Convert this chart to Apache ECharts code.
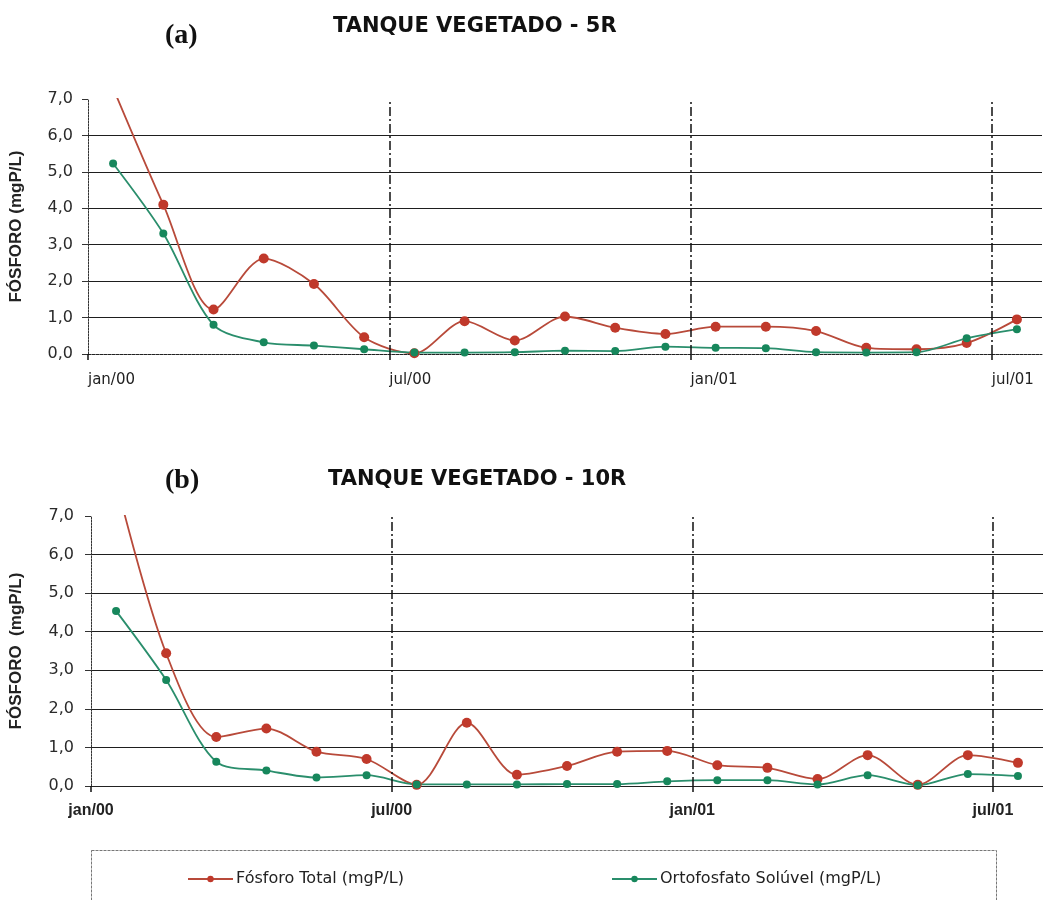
<!DOCTYPE html>
<html>
<head>
<meta charset="utf-8">
<title>Fósforo - Tanques vegetados</title>
<script src="https://cdn.jsdelivr.net/npm/echarts@6/dist/echarts.min.js"></script>
<style>
  html, body { margin: 0; padding: 0; background: #fff; }
  #chart { width: 1043px; height: 900px; }
</style>
</head>
<body>
<div id="chart"></div>
<script>
// Monthly samples, jan/2000 .. jul/2001 (one sample around mid-month)
const months = ['jan/00','fev/00','mar/00','abr/00','mai/00','jun/00','jul/00','ago/00','set/00','out/00',
                'nov/00','dez/00','jan/01','fev/01','mar/01','abr/01','mai/01','jun/01','jul/01'];
const xTickLabels = ['jan/00','jul/00','jan/01','jul/01'];
const yTickLabels = ['0,0','1,0','2,0','3,0','4,0','5,0','6,0','7,0'];

const seriesNames = ['Fósforo Total (mgP/L)', 'Ortofosfato Solúvel (mgP/L)'];
const panelTags = ['(a)', '(b)'];
const panelTitles = ['TANQUE VEGETADO - 5R', 'TANQUE VEGETADO - 10R'];
const yNames = ['FÓSFORO (mgP/L)', 'FÓSFORO  (mgP/L)'];

// Tanque 5R
const totalP5R = [7.3, 4.1, 1.22, 2.62, 1.92, 0.46, 0.02, 0.9, 0.37, 1.03, 0.72, 0.55, 0.75, 0.75, 0.63, 0.17, 0.13, 0.3, 0.95];
const orthoP5R = [5.23, 3.31, 0.8, 0.32, 0.23, 0.13, 0.04, 0.04, 0.05, 0.09, 0.08, 0.2, 0.17, 0.16, 0.05, 0.04, 0.05, 0.43, 0.68];
// Tanque 10R
const totalP10R = [7.9, 3.44, 1.27, 1.49, 0.89, 0.7, 0.03, 1.64, 0.29, 0.52, 0.89, 0.91, 0.54, 0.47, 0.18, 0.8, 0.03, 0.8, 0.6];
const orthoP10R = [4.54, 2.75, 0.63, 0.4, 0.22, 0.28, 0.04, 0.04, 0.04, 0.05, 0.05, 0.12, 0.15, 0.15, 0.04, 0.28, 0.02, 0.31, 0.26];

const RED = '#c0392b', RED_LINE = '#b84a3a';
const GREEN = '#17875c', GREEN_LINE = '#2a8e6c';

// x is measured in months from jan/00; a sample sits in the middle of its month
const toPoints = vals => vals.map((v, i) => [i + 0.5, v]);
const tickPos = xTickLabels.map(l => months.indexOf(l));
const xLabel = v => { const k = tickPos.indexOf(Math.round(v)); return k >= 0 ? xTickLabels[k] : ''; };
const yLabel = v => yTickLabels[Math.round(v)] || '';

const SANS = '"DejaVu Sans", "Liberation Sans", Arial, sans-serif';
const ARIAL = '"Liberation Sans", Arial, sans-serif';
const SERIF = '"Liberation Serif", "Times New Roman", serif';

const grids = [
  { left: 88, right: 1, top: 99, height: 255 },
  { left: 91, right: 0, top: 516, height: 270 }
];

function xAxisFor(idx) {
  const bold = idx === 1;
  return {
    type: 'value', gridIndex: idx, min: 0, max: months.length, interval: 6,
    axisLine: { show: true, lineStyle: { color: '#222', width: 1, type: bold ? 'solid' : [3, 1] } },
    axisTick: { show: true, length: 6, customValues: tickPos, lineStyle: { color: '#111', width: 1.5 } },
    splitLine: { show: false },
    axisLabel: {
      customValues: tickPos,
      formatter: xLabel,
      margin: bold ? 17 : 19,
      align: bold ? 'center' : 'left',
      color: '#222',
      fontSize: bold ? 16 : 15,
      fontWeight: bold ? 'bold' : 'normal',
      fontFamily: bold ? ARIAL : SANS
    }
  };
}

function yAxisFor(idx) {
  return {
    type: 'value', gridIndex: idx, min: 0, max: 7, interval: 1,
    name: yNames[idx], nameLocation: 'middle', nameGap: idx === 0 ? 63 : 66, nameRotate: 90,
    nameTextStyle: { fontSize: 17, fontWeight: 'bold', color: '#222', fontFamily: ARIAL },
    axisLine: { show: true, lineStyle: { color: '#333', width: 1, type: [2, 1] } },
    axisTick: { show: true, length: 6, lineStyle: { color: '#333' } },
    axisLabel: { formatter: yLabel, margin: idx === 0 ? 15 : 17, fontSize: 16, color: '#2a2a2a', fontFamily: SANS },
    splitLine: { show: true, showMaxLine: false, showMinLine: false, lineStyle: { color: '#1e1e1e', width: 1.2 } }
  };
}

function lineSeries(idx, name, vals, color, lineColor, size, withMarks) {
  const s = {
    type: 'line', name, xAxisIndex: idx, yAxisIndex: idx,
    data: toPoints(vals), smooth: 0.3, clip: true,
    symbol: 'circle', symbolSize: size,
    itemStyle: { color },
    lineStyle: { color: lineColor, width: 1.8 },
    emphasis: { disabled: true }, animation: false
  };
  if (withMarks) {
    s.markLine = {
      silent: true, symbol: 'none', label: { show: false },
      lineStyle: { color: '#111', width: 1.5, type: [9, 3, 2, 3] },
      data: tickPos.slice(1).map(p => ({ xAxis: p }))
    };
  }
  return s;
}

const chart = echarts.init(document.getElementById('chart'), null, { renderer: 'canvas' });

chart.setOption({
  backgroundColor: '#ffffff',
  animation: false,
  title: [
    { text: panelTags[0], left: 160, top: 17, textStyle: { fontFamily: SERIF, fontSize: 28, fontWeight: 'bold', color: '#111' } },
    { text: panelTitles[0], left: 328, top: 11, textStyle: { fontFamily: SANS, fontSize: 21, fontWeight: 'bold', color: '#111' } },
    { text: panelTags[1], left: 160, top: 462, textStyle: { fontFamily: SERIF, fontSize: 28, fontWeight: 'bold', color: '#111' } },
    { text: panelTitles[1], left: 323, top: 464, textStyle: { fontFamily: SANS, fontSize: 21, fontWeight: 'bold', color: '#111' } }
  ],
  legend: [
    { data: [seriesNames[0]], left: 182, top: 866, itemWidth: 45, itemHeight: 8, itemGap: 0,
      textStyle: { fontSize: 16, color: '#222', fontFamily: SANS, padding: [0, 0, 0, -2] }, selectedMode: false },
    { data: [seriesNames[1]], left: 606, top: 866, itemWidth: 45, itemHeight: 8, itemGap: 0,
      textStyle: { fontSize: 16, color: '#222', fontFamily: SANS, padding: [0, 0, 0, -2] }, selectedMode: false }
  ],
  graphic: [
    { type: 'rect', left: 89, top: 848, shape: { width: 905, height: 60 },
      style: { fill: 'none', stroke: '#777', lineWidth: 1, lineDash: [3, 1] }, silent: true }
  ],
  grid: grids,
  xAxis: [xAxisFor(0), xAxisFor(1)],
  yAxis: [yAxisFor(0), yAxisFor(1)],
  series: [
    lineSeries(0, seriesNames[0], totalP5R, RED, RED_LINE, 10, true),
    lineSeries(0, seriesNames[1], orthoP5R, GREEN, GREEN_LINE, 8, false),
    lineSeries(1, seriesNames[0], totalP10R, RED, RED_LINE, 10, true),
    lineSeries(1, seriesNames[1], orthoP10R, GREEN, GREEN_LINE, 8, false)
  ]
});
</script>
</body>
</html>
